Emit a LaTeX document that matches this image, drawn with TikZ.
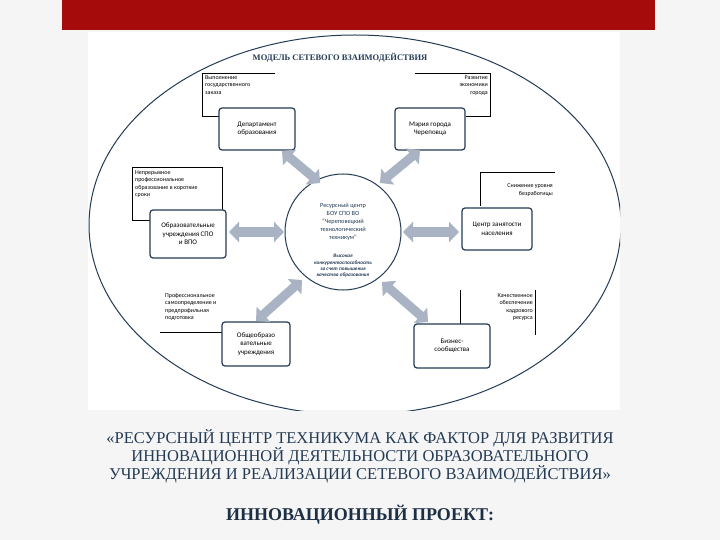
\documentclass[tikz,border=0pt]{standalone}
\usepackage{fontspec}
\setmainfont{Liberation Serif}
\newfontfamily\smallsans{Carlito}
\usetikzlibrary{arrows.meta}
\definecolor{navy}{HTML}{243B55}
\definecolor{garrow}{HTML}{A9B3C4}
\definecolor{barred}{HTML}{A50B0B}
\begin{document}
\begin{tikzpicture}[x=1pt,y=-1pt,
  lbl/.style={font=\smallsans\fontsize{6}{7.5}\selectfont, align=left, inner sep=2pt},
  rbox/.style={draw=navy, line width=1.2pt, rounded corners=3pt, fill=white, font=\smallsans\fontsize{7}{8.5}\selectfont, align=center, inner sep=0pt},
  garr/.style={garrow, line width=9pt, {Triangle[width=20pt,length=10pt]}-{Triangle[width=20pt,length=10pt]}},
  captext/.style={font=\fontsize{16.5}{18}\selectfont, text=navy, align=center}]
\useasboundingbox (0,0) rectangle (720,540);
\fill[gray!8] (0,0) rectangle (720,540);
\fill[barred] (62,0) rectangle (655,30);
\fill[white] (88,32) rectangle (620,410);
\begin{scope}
\clip (88,32) rectangle (620,410);
\draw[navy, line width=1pt] (355,225) ellipse [x radius=266, y radius=190];
\end{scope}
\node[font=\bfseries\fontsize{8.5}{10}\selectfont, text=navy] (title) at (340,58) {МОДЕЛЬ СЕТЕВОГО ВЗАИМОДЕЙСТВИЯ};
% top left
\draw (275,73) -- (202,73) -- (202,116) -- (222,116);
\node[lbl, anchor=north west] (t1) at (203,73) {Выполнение\\государственного\\заказа};
\node[rbox, minimum width=76pt, minimum height=42pt] (dep) at (257,129) {Департамент\\образования};
% top right
\draw (415,73) -- (490,73) -- (490,116) -- (466,116);
\node[lbl, anchor=north east, align=right] (t2) at (490,73) {Развитие\\экономики\\города};
\node[rbox, minimum width=70pt, minimum height=42pt] (mer) at (430,129) {Мэрия города\\Череповца};
% left middle
\draw (222,167) -- (132,167) -- (132,220) -- (152,220);
\draw (222,167) -- (222,212);
\node[lbl, anchor=north west] (t3) at (133,168) {Непрерывное\\профессиональное\\образование в короткие\\сроки};
\node[rbox, minimum width=76pt, minimum height=48pt] (spo) at (188,234) {Образовательные\\учреждения СПО\\и ВПО};
% right middle
\draw (555,172) -- (480,172) -- (480,206);
\node[lbl, anchor=east, align=right] (t4) at (555,190) {Снижение уровня\\безработицы};
\node[rbox, minimum width=70pt, minimum height=42pt] (czn) at (497,229) {Центр занятости\\населения};
% centre
\node[draw=navy, line width=1pt, circle, minimum size=116pt, fill=white] (c) at (343,232) {};
\node[font=\smallsans\fontsize{6.3}{8}\selectfont, align=center, text=navy] (ct) at (343,222) {Ресурсный центр\\БОУ СПО ВО\\“Череповецкий\\технологический\\техникум”};
\node[font=\smallsans\bfseries\itshape\fontsize{5.2}{6.2}\selectfont, align=center, text=navy] (ct2) at (343,266) {Высокая\\конкурентоспособность\\за счет повышения\\качества образования};
% bottom left
\draw (160,332) -- (222,332);
\node[lbl, anchor=north west] (t5) at (163,291) {Профессиональное\\самоопределение и\\предпрофильная\\подготовка};
\node[rbox, minimum width=68pt, minimum height=44pt] (obr) at (256,344) {Общеобразо\\вательные\\учреждения};
% bottom right
\draw (460,290) -- (460,326);
\draw (535,290) -- (535,335);
\node[lbl, anchor=north east, align=right] (t6) at (535,291) {Качественное\\обеспечение\\кадрового\\ресурса};
\node[rbox, minimum width=76pt, minimum height=44pt] (biz) at (452,346) {Бизнес-\\сообщества};
% arrows
\coordinate (a1) at (282,151); \coordinate (b1) at (320,183);
\coordinate (a2) at (420,150); \coordinate (b2) at (380,183);
\coordinate (a3) at (229,232); \coordinate (b3) at (284,232);
\coordinate (a4) at (459,232); \coordinate (b4) at (403,232);
\coordinate (a5) at (256,321); \coordinate (b5) at (302,280);
\coordinate (a6) at (428,322); \coordinate (b6) at (382,282);
\foreach \i in {1,...,6} \draw[garr] (a\i) -- (b\i);
% captions
\node[captext] (cap1) at (360,456) {«РЕСУРСНЫЙ ЦЕНТР ТЕХНИКУМА КАК ФАКТОР ДЛЯ РАЗВИТИЯ\\ИННОВАЦИОННОЙ ДЕЯТЕЛЬНОСТИ ОБРАЗОВАТЕЛЬНОГО\\УЧРЕЖДЕНИЯ И РЕАЛИЗАЦИИ СЕТЕВОГО ВЗАИМОДЕЙСТВИЯ»};
\node[font=\bfseries\fontsize{18}{20}\selectfont, text=navy!80!black] (cap2) at (360,515) {ИННОВАЦИОННЫЙ ПРОЕКТ:};
\end{tikzpicture}
\end{document}
